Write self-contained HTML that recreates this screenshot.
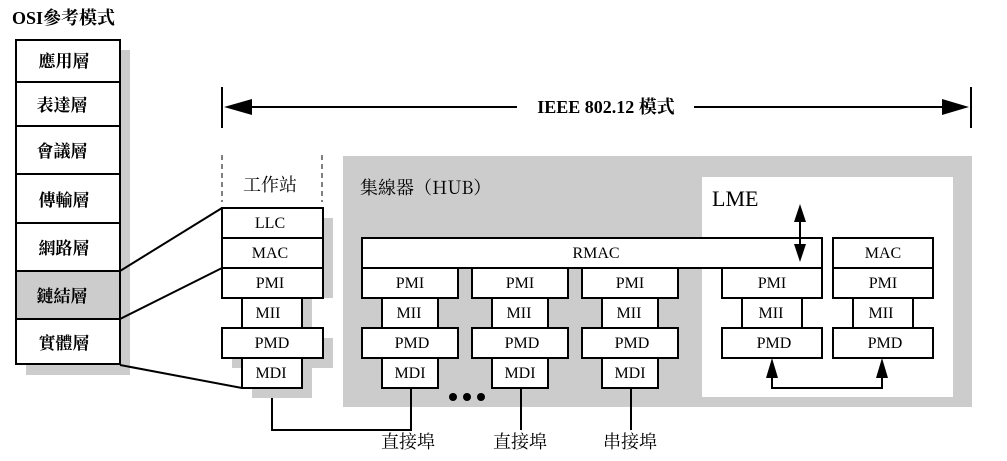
<!DOCTYPE html>
<html><head><meta charset="utf-8"><style>
html,body{margin:0;padding:0;background:#fff;}
svg{display:block;}
text{font-family:"Liberation Serif","Noto Serif CJK SC","Noto Sans CJK TC",serif;fill:#000;}
.b{fill:#fff;stroke:#000;stroke-width:2;}
.s{fill:#cccccc;}
.l{stroke:#000;stroke-width:2;fill:none;}
.t{font-size:16px;text-anchor:middle;}
.c{font-size:17px;text-anchor:middle;font-weight:bold;font-family:"Noto Sans CJK TC","Noto Sans CJK SC",sans-serif;}
</style></head><body>
<svg width="1007" height="461" viewBox="0 0 1007 461" xmlns="http://www.w3.org/2000/svg">
<text x="12" y="24" style="font-size:18px;font-weight:bold;font-family:'Liberation Serif','Noto Serif CJK SC',serif">OSI參考模式</text>
<rect class="s" x="26" y="50" width="104" height="325"/>
<rect class="b" x="16" y="40" width="104" height="324"/>
<rect x="17" y="272" width="102" height="46" fill="#cccccc"/>
<g class="l">
<line x1="16" y1="82" x2="120" y2="82"/><line x1="16" y1="126" x2="120" y2="126"/>
<line x1="16" y1="174" x2="120" y2="174"/><line x1="16" y1="223" x2="120" y2="223"/>
<line x1="16" y1="271" x2="120" y2="271"/><line x1="16" y1="319" x2="120" y2="319"/>
</g>
<g class="c">
<text x="64" y="67">應用層</text><text x="62" y="111">表達層</text><text x="62" y="157">會議層</text>
<text x="64" y="206">傳輸層</text><text x="64" y="254">網路層</text><text x="62" y="302">鏈結層</text>
<text x="64" y="349">實體層</text>
</g>
<g class="l">
<line x1="222" y1="87" x2="222" y2="128"/><line x1="971" y1="87" x2="971" y2="128"/>
<line x1="240" y1="107" x2="517" y2="107"/><line x1="694" y1="107" x2="950" y2="107"/>
</g>
<polygon points="224,107 252,99 252,115" fill="#000"/>
<polygon points="969,107 942,99 942,115" fill="#000"/>
<text x="606" y="113" style="font-size:18px;font-weight:bold;text-anchor:middle">IEEE 802.12 模式</text>
<line x1="222" y1="155" x2="222" y2="202" stroke="#000" stroke-width="1" stroke-dasharray="5,4"/>
<line x1="322" y1="155" x2="322" y2="202" stroke="#000" stroke-width="1" stroke-dasharray="5,4"/>
<text x="270" y="191" style="font-size:18px;text-anchor:middle;font-family:'Noto Serif CJK SC','Noto Sans CJK TC',serif">工作站</text>
<rect class="s" x="232" y="218" width="101" height="80"/>
<rect class="s" x="252" y="298" width="60" height="40"/>
<rect class="s" x="232" y="338" width="101" height="30"/>
<rect class="s" x="252" y="358" width="60" height="40"/>
<rect class="b" x="222" y="208" width="101" height="30"/>
<rect class="b" x="222" y="238" width="101" height="30"/>
<rect class="b" x="222" y="268" width="101" height="30"/>
<rect class="b" x="242" y="298" width="60" height="30"/>
<rect class="b" x="222" y="328" width="101" height="30"/>
<rect class="b" x="242" y="358" width="60" height="30"/>
<g class="t">
<text x="270" y="228">LLC</text><text x="270" y="258">MAC</text><text x="270" y="288">PMI</text>
<text x="268" y="318">MII</text><text x="272" y="348">PMD</text><text x="271" y="378">MDI</text>
</g>
<g class="l">
<line x1="120" y1="271" x2="222" y2="208"/><line x1="120" y1="319" x2="222" y2="268"/>
<line x1="120" y1="365" x2="242" y2="388"/>
</g>
<rect class="s" x="343" y="156" width="629" height="251"/>
<rect x="702" y="177" width="251" height="220" fill="#fff"/>
<text x="360" y="194" style="font-size:18px;font-family:'Noto Serif CJK SC','Noto Sans CJK TC',serif">集線器（HUB）</text>
<text x="712" y="206" style="font-size:22px">LME</text>
<rect class="b" x="362" y="238" width="460" height="30"/>
<text class="t" x="596" y="258">RMAC</text>
<g>
<rect class="b" x="362" y="268" width="96" height="30"/><rect class="b" x="382" y="298" width="56" height="30"/>
<rect class="b" x="362" y="328" width="96" height="30"/><rect class="b" x="382" y="358" width="56" height="30"/>
<rect class="b" x="472" y="268" width="96" height="30"/><rect class="b" x="492" y="298" width="56" height="30"/>
<rect class="b" x="472" y="328" width="96" height="30"/><rect class="b" x="492" y="358" width="56" height="30"/>
<rect class="b" x="582" y="268" width="96" height="30"/><rect class="b" x="602" y="298" width="56" height="30"/>
<rect class="b" x="582" y="328" width="96" height="30"/><rect class="b" x="602" y="358" width="56" height="30"/>
<rect class="b" x="722" y="268" width="100" height="30"/><rect class="b" x="742" y="298" width="60" height="30"/>
<rect class="b" x="722" y="328" width="100" height="30"/>
<rect class="b" x="833" y="238" width="100" height="30"/>
<rect class="b" x="833" y="268" width="100" height="30"/><rect class="b" x="853" y="298" width="60" height="30"/>
<rect class="b" x="833" y="328" width="100" height="30"/>
</g>
<g class="t">
<text x="410" y="288">PMI</text><text x="409" y="318">MII</text><text x="412" y="348">PMD</text><text x="410" y="378">MDI</text>
<text x="520" y="288">PMI</text><text x="519" y="318">MII</text><text x="522" y="348">PMD</text><text x="520" y="378">MDI</text>
<text x="630" y="288">PMI</text><text x="629" y="318">MII</text><text x="632" y="348">PMD</text><text x="630" y="378">MDI</text>
<text x="772" y="288">PMI</text><text x="771" y="318">MII</text><text x="774" y="348">PMD</text>
<text x="883" y="258">MAC</text><text x="883" y="288">PMI</text><text x="881" y="318">MII</text><text x="885" y="348">PMD</text>
</g>
<line class="l" x1="800" y1="220" x2="800" y2="248"/>
<polygon points="800,204 794,222 806,222" fill="#000"/>
<polygon points="800,262 794,244 806,244" fill="#000"/>
<polyline class="l" points="772,372 772,388 882,388 882,372"/>
<polygon points="772,358 766,378 778,378" fill="#000"/>
<polygon points="882,358 876,378 888,378" fill="#000"/>
<circle cx="453" cy="397" r="4"/><circle cx="467" cy="397" r="4"/><circle cx="481" cy="397" r="4"/>
<polyline class="l" points="272,398 272,430 411,430 411,388"/>
<line class="l" x1="521" y1="388" x2="521" y2="430"/>
<line class="l" x1="631" y1="388" x2="631" y2="430"/>
<g style="font-size:18px;text-anchor:middle;font-family:'Noto Serif CJK SC','Noto Sans CJK TC',serif">
<text x="408" y="448">直接埠</text><text x="520" y="448">直接埠</text><text x="630" y="448">串接埠</text>
</g>
</svg>
</body></html>
